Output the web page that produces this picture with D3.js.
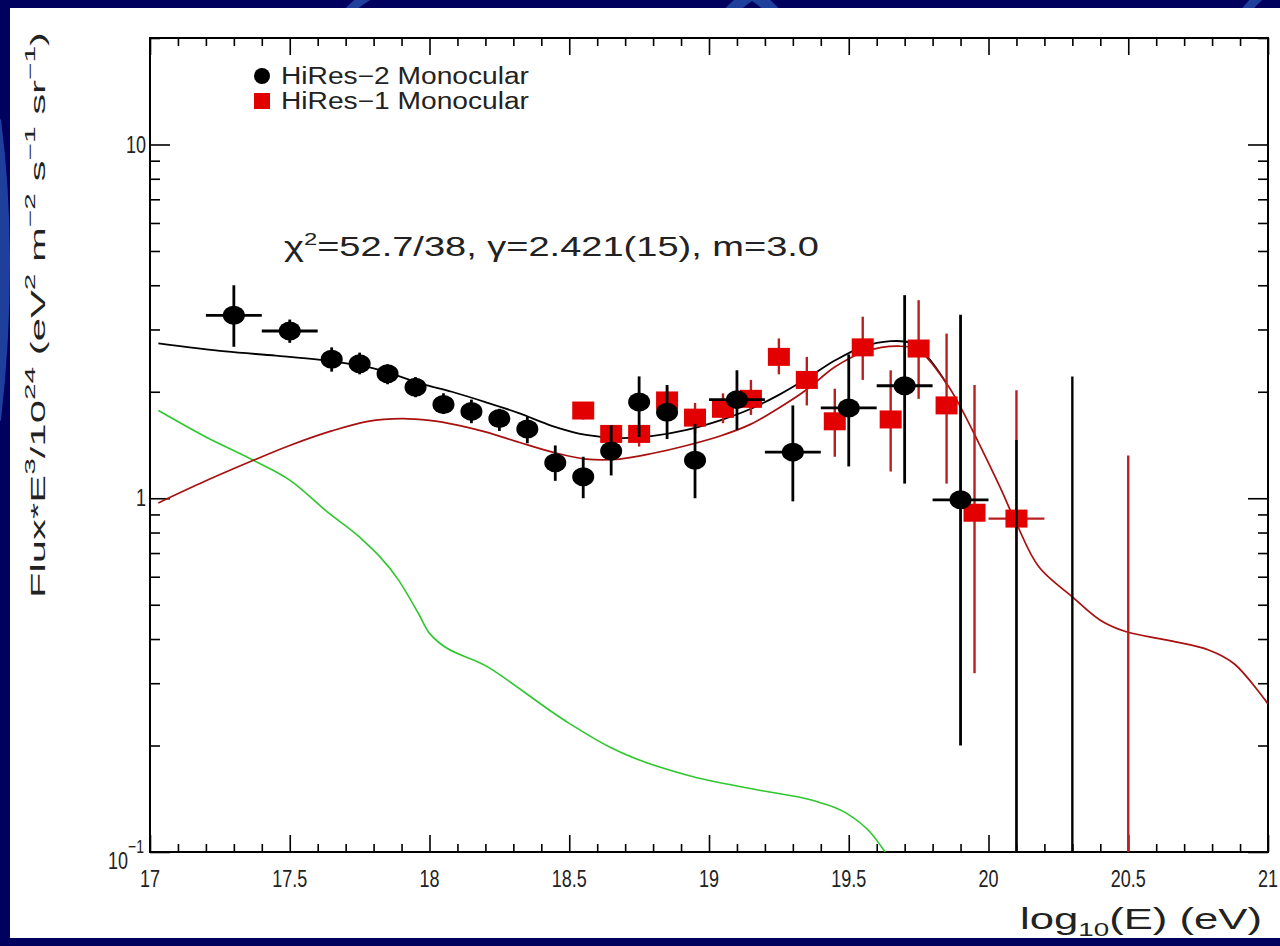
<!DOCTYPE html>
<html>
<head>
<meta charset="utf-8">
<script src="https://cdn.jsdelivr.net/npm/d3@7"></script>
<style>
  html, body { margin: 0; padding: 0; background: #00005e; }
  svg { display: block; }
  text { font-family: "Liberation Sans", Arial, sans-serif; }
</style>
</head>
<body>
<svg id="chart" width="1280" height="946"></svg>
<script>
// ---- HiRes-2 monocular spectrum (black circles) ----
const hires2X    = [17.3, 17.5, 17.65, 17.75, 17.85, 17.95, 18.05, 18.15, 18.25, 18.35, 18.45, 18.55, 18.65, 18.75, 18.85, 18.95, 19.1, 19.3, 19.5, 19.7, 19.9];
const hires2Y    = [3.29, 2.97, 2.47, 2.40, 2.25, 2.06, 1.84, 1.76, 1.68, 1.57, 1.26, 1.15, 1.36, 1.87, 1.75, 1.28, 1.90, 1.35, 1.80, 2.08, 0.99];
const hires2Hi   = [4.00, 3.20, 2.67, 2.58, 2.39, 2.20, 1.98, 1.90, 1.79, 1.70, 1.41, 1.31, 1.61, 2.21, 2.09, 1.62, 2.30, 1.83, 2.55, 3.75, 3.30];
const hires2Lo   = [2.68, 2.75, 2.28, 2.24, 2.10, 1.93, 1.73, 1.63, 1.55, 1.43, 1.12, 1.00, 1.16, 1.49, 1.47, 1.00, 1.56, 0.98, 1.23, 1.10, 0.20];
const hires2XErr = [0.1, 0.1, 0, 0, 0, 0, 0, 0, 0, 0, 0, 0, 0, 0, 0, 0, 0.1, 0.1, 0.1, 0.1, 0.1];
// bins with only an upper error reaching into the plot
const hires2LimX  = [20.1, 20.3];
const hires2LimHi = [1.46, 2.21];

// ---- HiRes-1 monocular spectrum (red squares) ----
const hires1X    = [18.55, 18.65, 18.75, 18.85, 18.95, 19.05, 19.15, 19.25, 19.35, 19.45, 19.55, 19.65, 19.75, 19.85, 19.95, 20.1];
const hires1Y    = [1.77, 1.52, 1.52, 1.89, 1.69, 1.79, 1.91, 2.51, 2.16, 1.65, 2.67, 1.67, 2.65, 1.83, 0.91, 0.876];
const hires1Hi   = [1.86, 1.61, 1.59, 2.06, 1.86, 1.98, 2.16, 2.83, 2.51, 2.04, 3.26, 2.30, 3.63, 2.92, 2.09, 2.02];
const hires1Lo   = [1.67, 1.44, 1.40, 1.74, 1.53, 1.63, 1.72, 2.24, 1.83, 1.31, 2.16, 1.19, 1.91, 1.10, 0.32, 0.05];
const hires1XErr = [0, 0, 0, 0, 0, 0, 0, 0, 0, 0, 0, 0, 0, 0, 0, 0.1];
const hires1LimX  = [20.5];
const hires1LimHi = [1.32];

// ---- model curves ----
const fitTotalX = [17.03, 17.27, 17.45, 17.61, 17.80, 17.97, 18.08, 18.20, 18.32, 18.44, 18.56, 18.68, 18.80, 18.92, 19.04, 19.15, 19.25, 19.35, 19.45, 19.55, 19.65, 19.72, 19.78, 19.85];
const fitTotalY = [2.74, 2.60, 2.53, 2.46, 2.33, 2.11, 2.00, 1.87, 1.74, 1.60, 1.51, 1.48, 1.50, 1.56, 1.66, 1.79, 1.96, 2.18, 2.45, 2.68, 2.78, 2.75, 2.52, 2.11];
const fitExtraX = [17.03, 17.20, 17.37, 17.50, 17.65, 17.78, 17.90, 18.00, 18.10, 18.20, 18.32, 18.44, 18.56, 18.68, 18.80, 18.92, 19.04, 19.15, 19.25, 19.35, 19.45, 19.56, 19.68, 19.75, 19.85, 19.90, 19.96, 20.04, 20.10, 20.18, 20.30, 20.40, 20.49, 20.64, 20.79, 20.88, 21.0];
const fitExtraY = [0.97, 1.12, 1.28, 1.41, 1.55, 1.65, 1.68, 1.66, 1.61, 1.54, 1.44, 1.35, 1.29, 1.29, 1.34, 1.41, 1.50, 1.62, 1.80, 2.03, 2.35, 2.60, 2.69, 2.62, 2.11, 1.81, 1.46, 1.08, 0.848, 0.64, 0.526, 0.452, 0.42, 0.397, 0.372, 0.34, 0.262];
const fitGalX   = [17.03, 17.20, 17.37, 17.50, 17.64, 17.75, 17.89, 17.96, 18.00, 18.21, 18.50, 18.65, 18.92, 19.19, 19.37, 19.49, 19.58, 19.63];
const fitGalY   = [1.77, 1.49, 1.28, 1.125, 0.907, 0.776, 0.586, 0.473, 0.415, 0.333, 0.231, 0.197, 0.165, 0.149, 0.140, 0.129, 0.113, 0.100];

// ---- axes ----
const xDomain = [17, 21];
const yDomain = [0.1, 20];
const xMajor = [17, 17.5, 18, 18.5, 19, 19.5, 20, 20.5, 21];
const xTickLabels = ["17", "17.5", "18", "18.5", "19", "19.5", "20", "20.5", "21"];
const yMajor = [0.1, 1, 10];
const yMinor = [0.2, 0.3, 0.4, 0.5, 0.6, 0.7, 0.8, 0.9, 2, 3, 4, 5, 6, 7, 8, 9, 20];

const legendLabels = ["HiRes\u22122 Monocular", "HiRes\u22121 Monocular"];
const fitText = "=52.7/38, \u03b3=2.421(15), m=3.0";

const svg = d3.select("#chart");
const W = 1280, H = 946;
const plot = { left: 150, right: 1268, top: 38, bottom: 852 };

const x = d3.scaleLinear().domain(xDomain).range([plot.left, plot.right]);
const y = d3.scaleLog().domain(yDomain).range([plot.bottom, plot.top]);

// slide background with faint arcs, white page on top
svg.append("rect").attr("width", W).attr("height", H).attr("fill", "#00005e");
const deco = svg.append("g").attr("fill", "none").attr("stroke", "#1f3f9c").attr("stroke-width", 9);
deco.append("path").attr("d", "M338,30 Q345,8 372,-6");
deco.append("path").attr("d", "M714,30 Q735,4 752,-6 M788,30 Q770,4 752,-6").attr("stroke-width", 12);
deco.append("path").attr("d", "M1232,30 Q1246,8 1262,-6");
deco.append("path").attr("d", "M-4,120 Q14,260 -4,420").attr("stroke-width", 10);
svg.append("rect").attr("x", 10).attr("y", 8).attr("width", W - 10).attr("height", 930).attr("fill", "#ffffff");

svg.append("clipPath").attr("id", "plotclip")
  .append("rect").attr("x", plot.left).attr("y", plot.top)
  .attr("width", plot.right - plot.left).attr("height", plot.bottom - plot.top);

const g = svg.append("g");

// ---- ticks (all pointing inwards) ----
const xMinor = d3.range(171, 211).map(d => d / 10).filter(v => !xMajor.some(m => Math.abs(m - v) < 1e-6));
function tickAxis(axis, transform) {
  const a = g.append("g").attr("transform", transform).call(axis);
  a.selectAll("text").remove();
  a.select(".domain").remove();
  a.selectAll("line").attr("stroke", "#000").attr("stroke-width", 1.6);
  return a;
}
tickAxis(d3.axisBottom(x).tickValues(xMajor).tickSize(-17), `translate(0,${plot.bottom})`);
tickAxis(d3.axisBottom(x).tickValues(xMinor).tickSize(-8), `translate(0,${plot.bottom})`);
tickAxis(d3.axisTop(x).tickValues(xMajor).tickSize(-17), `translate(0,${plot.top})`);
tickAxis(d3.axisTop(x).tickValues(xMinor).tickSize(-8), `translate(0,${plot.top})`);
tickAxis(d3.axisLeft(y).tickValues(yMajor).tickSize(-20), `translate(${plot.left},0)`);
tickAxis(d3.axisLeft(y).tickValues(yMinor).tickSize(-10), `translate(${plot.left},0)`);
tickAxis(d3.axisRight(y).tickValues(yMajor).tickSize(-20), `translate(${plot.right},0)`);
tickAxis(d3.axisRight(y).tickValues(yMinor).tickSize(-10), `translate(${plot.right},0)`);

// frame
g.append("rect").attr("x", plot.left).attr("y", plot.top)
  .attr("width", plot.right - plot.left).attr("height", plot.bottom - plot.top)
  .attr("fill", "none").attr("stroke", "#000").attr("stroke-width", 2);

// ---- tick labels (tall, narrow glyphs) ----
const SY = 1.35;
function stretched(parent, px, py, sx, sy) {
  return parent.append("g").attr("transform", `translate(${px},${py}) scale(${sx},${sy})`);
}
xMajor.forEach((v, i) => {
  stretched(g, x(v), 887, 1, SY).append("text")
    .attr("text-anchor", "middle").attr("font-size", 18).attr("fill", "#222")
    .text(xTickLabels[i]);
});
// 10 and 1 on the left
stretched(g, 146, 153, 1, SY).append("text")
  .attr("text-anchor", "end").attr("font-size", 18).attr("fill", "#222").text("10");
stretched(g, 146, 506, 1, SY).append("text")
  .attr("text-anchor", "end").attr("font-size", 18).attr("fill", "#222").text("1");
const tenth = stretched(g, 108, 869, 1, SY).append("text").attr("font-size", 18).attr("fill", "#222");
tenth.append("tspan").text("10");
tenth.append("tspan").attr("font-size", 14).attr("dy", -12).text("\u22121");

// x title
const xt = stretched(g, 1020, 929, 1, SY).append("text")
  .attr("font-size", 22).attr("fill", "#222")
  .attr("textLength", 242).attr("lengthAdjust", "spacingAndGlyphs");
xt.append("tspan").text("log");
xt.append("tspan").attr("font-size", 14).attr("dy", 5).text("10");
xt.append("tspan").attr("dy", -5).text("(E) (eV)");

// y title, rotated and drawn long along its baseline
const yt = g.append("g").attr("transform", "translate(45,598) rotate(-90)")
  .append("text").attr("font-size", 21).attr("fill", "#222")
  .attr("textLength", 566).attr("lengthAdjust", "spacingAndGlyphs");
const ySegs = [["Flux*E", 0], ["3", 1], ["/10", 0], ["24", 1], [" (eV", 0], ["2", 1], [" m", 0], ["\u22122", 1], [" s", 0], ["\u22121", 1], [" sr", 0], ["\u22121", 1], [")", 0]];
let prevSup = 0;
ySegs.forEach(([t, sup]) => {
  const ts = yt.append("tspan").text(t);
  if (sup) ts.attr("font-size", 15);
  const dy = (sup ? -10 : 0) - (prevSup ? -10 : 0);
  if (dy) ts.attr("dy", dy);
  prevSup = sup;
});

// ---- annotation ----
const ann = stretched(g, 284, 256, 1, 1.15).append("text").attr("font-size", 24).attr("fill", "#222")
  .attr("textLength", 535).attr("lengthAdjust", "spacingAndGlyphs");
ann.append("tspan").text("\u03c7");
ann.append("tspan").attr("font-size", 15).attr("dy", -10).text("2");
ann.append("tspan").attr("dy", 10).text(fitText);

// ---- legend ----
g.append("ellipse").attr("cx", 262).attr("cy", 76).attr("rx", 8).attr("ry", 8).attr("fill", "#000");
g.append("rect").attr("x", 254).attr("y", 93).attr("width", 16).attr("height", 16).attr("fill", "#e00000");
legendLabels.forEach((t, i) => {
  stretched(g, 281, 84 + i * 25, 1, 1.15).append("text").attr("font-size", 20).attr("fill", "#222")
    .attr("textLength", 248).attr("lengthAdjust", "spacingAndGlyphs").text(t);
});

// ---- plotted content, clipped to the frame ----
const inner = g.append("g").attr("clip-path", "url(#plotclip)");
const smooth = d3.line().x(d => x(d[0])).y(d => y(d[1])).curve(d3.curveCatmullRom.alpha(0.5));
const kinked = d3.line().x(d => x(d[0])).y(d => y(d[1])).curve(d3.curveMonotoneX);

inner.append("path").datum(d3.zip(fitGalX, fitGalY)).attr("d", kinked)
  .attr("fill", "none").attr("stroke", "#2ec82e").attr("stroke-width", 1.6);
inner.append("path").datum(d3.zip(fitTotalX, fitTotalY)).attr("d", smooth)
  .attr("fill", "none").attr("stroke", "#000").attr("stroke-width", 1.8);
inner.append("path").datum(d3.zip(fitExtraX, fitExtraY)).attr("d", smooth)
  .attr("fill", "none").attr("stroke", "#a81010").attr("stroke-width", 1.7);

// error bars + markers
function errorBars(sel, xs, ys, his, los, xerr, color, width) {
  const grp = sel.append("g").attr("stroke", color).attr("stroke-width", width);
  xs.forEach((xv, i) => {
    grp.append("line").attr("x1", x(xv)).attr("x2", x(xv))
      .attr("y1", y(his[i])).attr("y2", y(Math.max(los[i], 0.01)));
    if (xerr[i] > 0) {
      grp.append("line").attr("x1", x(xv - xerr[i])).attr("x2", x(xv + xerr[i]))
        .attr("y1", y(ys[i])).attr("y2", y(ys[i]));
    }
  });
}
function limitBars(sel, xs, his, color, width) {
  const grp = sel.append("g").attr("stroke", color).attr("stroke-width", width);
  xs.forEach((xv, i) => {
    grp.append("line").attr("x1", x(xv)).attr("x2", x(xv))
      .attr("y1", y(his[i])).attr("y2", y(yDomain[0]) + 2);
  });
}

// HiRes-1 first, HiRes-2 drawn on top
errorBars(inner, hires1X, hires1Y, hires1Hi, hires1Lo, hires1XErr, "#b82020", 2.4);
limitBars(inner, hires1LimX, hires1LimHi, "#b82020", 2.4);
inner.append("g").selectAll("rect").data(d3.range(hires1X.length)).join("rect")
  .attr("x", i => x(hires1X[i]) - 11).attr("y", i => y(hires1Y[i]) - 9)
  .attr("width", 22).attr("height", 18).attr("fill", "#e30000");

errorBars(inner, hires2X, hires2Y, hires2Hi, hires2Lo, hires2XErr, "#000", 2.8);
limitBars(inner, hires2LimX, hires2LimHi, "#000", 2.4);
inner.append("g").selectAll("ellipse").data(d3.range(hires2X.length)).join("ellipse")
  .attr("cx", i => x(hires2X[i])).attr("cy", i => y(hires2Y[i]))
  .attr("rx", 11).attr("ry", 9.5).attr("fill", "#000");
</script>
</body>
</html>
